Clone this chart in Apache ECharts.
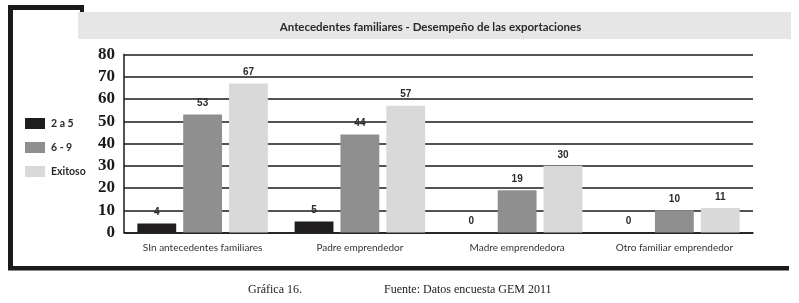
<!DOCTYPE html>
<html>
<head>
<meta charset="utf-8">
<script src="https://cdn.jsdelivr.net/npm/echarts@6/dist/echarts.min.js"></script>
<style>html,body{margin:0;padding:0;background:#fff;}#c{width:799px;height:303px;}</style>
</head>
<body>
<div id="c"></div>
<script>
const categories = ['SIn antecedentes familiares', 'Padre emprendedor', 'Madre emprendedora', 'Otro familiar emprendedor'];
const seriesNames = ['2 a 5', '6 - 9', 'Exitoso'];
const values2a5 = [4, 5, 0, 0];
const values6a9 = [53, 44, 19, 10];
const valuesExitoso = [67, 57, 30, 11];
const yTicks = [0, 10, 20, 30, 40, 50, 60, 70, 80];
const titleText = 'Antecedentes familiares - Desempeño de las exportaciones';
const captionLeft = 'Gráfica 16.';
const captionRight = 'Fuente: Datos encuesta GEM 2011';

const colors = ['#1f1d1e', '#8f8f90', '#d9d9d9'];
const chart = echarts.init(document.getElementById('c'), null, {renderer: 'canvas'});
const labelStyle = {show: true, position: 'top', distance: 6, fontFamily: 'Liberation Sans', fontWeight: 'bold', fontSize: 10, color: '#2a2a2a'};
const seriesData = [values2a5, values6a9, valuesExitoso];
chart.setOption({
  animation: false,
  color: colors,
  grid: {left: 124, right: 46, top: 54.5, bottom: 70.5, containLabel: false},
  legend: {
    orient: 'vertical', left: 25, top: 118, padding: 0, itemWidth: 20, itemHeight: 11, itemGap: 13,
    icon: 'rect',
    textStyle: {fontFamily: 'Lato', fontWeight: 'bold', fontSize: 10.5, color: '#2a2a2a', padding: [0,0,0,1]},
    data: seriesNames
  },
  xAxis: {
    type: 'category', data: categories,
    axisLine: {show: true, lineStyle: {color: '#1a1a1a', width: 1.5}},
    axisTick: {show: false},
    axisLabel: {interval: 0, margin: 10, fontFamily: 'Lato', fontSize: 10, color: '#333'}
  },
  yAxis: {
    type: 'value', min: yTicks[0], max: yTicks[yTicks.length - 1], interval: 10,
    axisLine: {show: true, lineStyle: {color: '#1a1a1a', width: 1.5}},
    axisTick: {show: false},
    splitLine: {show: true, lineStyle: {color: '#1a1a1a', width: 1.5}},
    axisLabel: {margin: 9, fontFamily: 'Liberation Serif', fontWeight: 'bold', fontSize: 17, color: '#1a1a1a'}
  },
  series: seriesNames.map((n, i) => ({
    name: n, type: 'bar', data: seriesData[i],
    barCategoryGap: '17%', barGap: '18%',
    label: labelStyle
  })),
  graphic: [
    {type: 'rect', shape: {x: 78, y: 12, width: 713, height: 27}, style: {fill: '#e6e6e6'}, z: -1},
    {type: 'rect', shape: {x: 8, y: 5, width: 5, height: 265}, style: {fill: '#1a1a1a'}},
    {type: 'rect', shape: {x: 8, y: 5, width: 76, height: 5}, style: {fill: '#1a1a1a'}},
    {type: 'rect', shape: {x: 80, y: 5, width: 4, height: 7}, style: {fill: '#1a1a1a'}},
    {type: 'rect', shape: {x: 8, y: 266, width: 781, height: 4.5}, style: {fill: '#1a1a1a'}},
    {type: 'text', x: 430.5, y: 27, style: {text: titleText, textAlign: 'center', textVerticalAlign: 'middle', font: 'bold 11.5px Lato', fill: '#2a2a2a'}},
    {type: 'text', x: 248, y: 290, style: {text: captionLeft, textAlign: 'left', textVerticalAlign: 'middle', font: '12px "Liberation Serif"', fill: '#222'}},
    {type: 'text', x: 384, y: 290, style: {text: captionRight, textAlign: 'left', textVerticalAlign: 'middle', font: '12px "Liberation Serif"', fill: '#222'}}
  ]
});
</script>
</body>
</html>
